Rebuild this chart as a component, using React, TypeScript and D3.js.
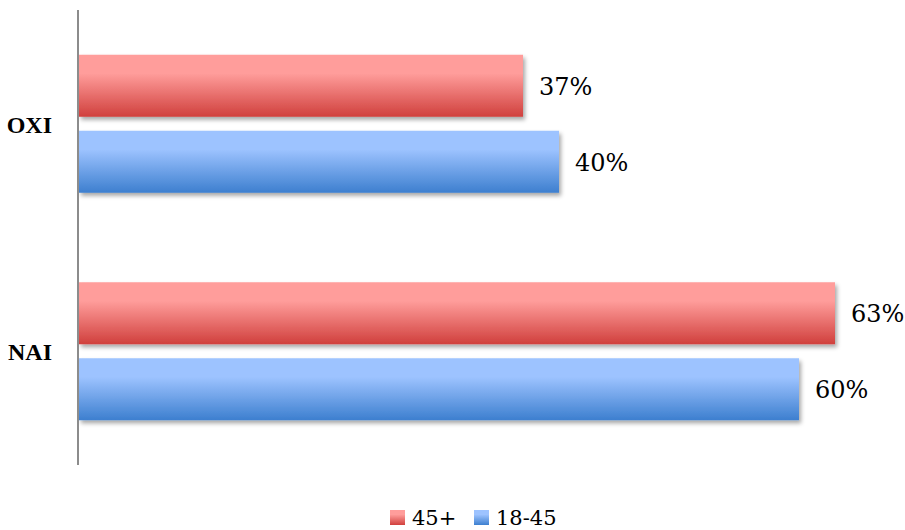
import React from "react";
import * as d3 from "d3";

const categories = ["OXI", "NAI"];
const seriesNames = ["45+", "18-45"];
const values45plus = [0.37, 0.63];
const values1845 = [0.40, 0.60];
const seriesValues = [values45plus, values1845];

const W = 905;
const H = 530;

const gradients = [
  { id: "gRed", top: "#ff9d9b", bottom: "#d0403d" },
  { id: "gBlue", top: "#9dc3ff", bottom: "#3d7fcf" },
];

export default function App() {
  const x = d3.scaleLinear().domain([0, 0.7]).range([79, 919]);
  const y = d3.scaleBand<string>().domain(categories).range([10, 465]).paddingInner(0).paddingOuter(0);
  const inner = d3.scaleBand<string>().domain(seriesNames).range([44.75, 227.5 - 44.75]).paddingInner(14 / 76);
  const fmt = d3.format(".0%");

  return (
    <svg width={W} height={H} style={{ position: "absolute", left: 0, top: 0 }}>
      <defs>
        {gradients.map((g) => (
          <linearGradient key={g.id} id={g.id} x1="0" y1="0" x2="0" y2="1">
            <stop offset="0" stopColor={g.top} />
            <stop offset="0.3" stopColor={g.top} />
            <stop offset="1" stopColor={g.bottom} />
          </linearGradient>
        ))}
        <filter id="shadow" x="-5%" y="-20%" width="115%" height="160%">
          <feDropShadow dx="2" dy="3" stdDeviation="2" floodColor="#000" floodOpacity="0.35" />
        </filter>
      </defs>
      {categories.map((c, ci) => (
        <g key={c}>
          {seriesNames.map((s, si) => {
            const v = seriesValues[si][ci];
            const by = (y(c) as number) + (inner(s) as number);
            const bh = inner.bandwidth();
            return (
              <g key={s}>
                <rect
                  x={x(0)}
                  y={by}
                  width={x(v) - x(0)}
                  height={bh}
                  fill={`url(#${gradients[si].id})`}
                  filter="url(#shadow)"
                />
                <text
                  x={x(v) + 16}
                  y={by + bh / 2 + 1}
                  dominantBaseline="central"
                  fontFamily="'DejaVu Serif', serif"
                  fontSize={24}
                  fill="#000"
                >
                  {fmt(v)}
                </text>
              </g>
            );
          })}
          <text
            x={52}
            y={(y(c) as number) + y.bandwidth() / 2 + 1}
            textAnchor="end"
            dominantBaseline="central"
            fontFamily="'Liberation Serif', serif"
            fontWeight="bold"
            fontSize={24}
            fill="#000"
          >
            {c}
          </text>
        </g>
      ))}
      <line x1={78} x2={78} y1={10} y2={465} stroke="#8c8c8c" strokeWidth={2} />
      {seriesNames.map((s, si) => {
        const lx = [390, 474][si];
        return (
          <g key={s}>
            <rect x={lx} y={510} width={15} height={15} fill={`url(#${gradients[si].id})`} />
            <text
              x={lx + 22}
              y={518}
              dominantBaseline="central"
              fontFamily="'DejaVu Serif', serif"
              fontSize={21}
              fill="#000"
            >
              {s}
            </text>
          </g>
        );
      })}
    </svg>
  );
}
